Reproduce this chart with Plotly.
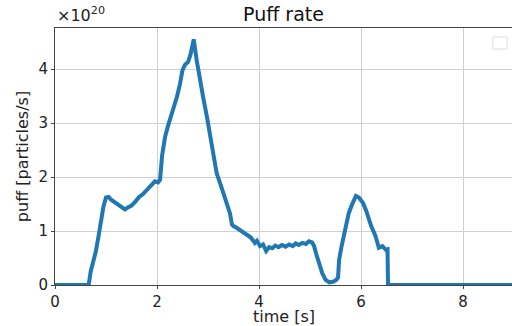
import plotly.graph_objects as go

# Puff rate time trace (time in s, rate in units of 1e20 particles/s)
time_s = [0.0, 0.66, 0.70, 0.75, 0.80, 0.85, 0.90, 0.95, 1.00, 1.05, 1.10, 1.18, 1.25, 1.30,
          1.37, 1.42, 1.50, 1.58, 1.65, 1.72, 1.80, 1.88, 1.96, 2.02, 2.06, 2.10, 2.16,
          2.22, 2.30, 2.39, 2.45, 2.50, 2.55, 2.61, 2.66, 2.72, 2.78, 2.84, 2.91, 2.98,
          3.06, 3.14, 3.17, 3.25, 3.33, 3.40, 3.43, 3.47, 3.50, 3.56, 3.62, 3.70, 3.76,
          3.84, 3.92, 3.96, 4.02, 4.08, 4.14, 4.20, 4.26, 4.32, 4.38, 4.45, 4.52, 4.59,
          4.66, 4.72, 4.78, 4.85, 4.92, 4.98, 5.04, 5.08, 5.13, 5.18, 5.24, 5.31, 5.38,
          5.45, 5.51, 5.55, 5.57, 5.62, 5.67, 5.72, 5.76, 5.82, 5.90, 5.96, 6.04, 6.10,
          6.15, 6.20, 6.28, 6.35, 6.42, 6.49, 6.52, 6.53, 7.5, 9.0]
puff = [0.0, 0.0, 0.25, 0.42, 0.62, 0.88, 1.18, 1.45, 1.62, 1.63, 1.58, 1.52, 1.47, 1.44,
        1.40, 1.43, 1.47, 1.55, 1.63, 1.68, 1.76, 1.82, 1.92, 1.90, 1.95, 2.40, 2.75,
        2.96, 3.20, 3.48, 3.72, 3.98, 4.08, 4.13, 4.28, 4.55, 4.15, 3.80, 3.45, 3.11,
        2.70, 2.31, 2.07, 1.85, 1.62, 1.38, 1.33, 1.12, 1.09, 1.06, 1.02, 0.98, 0.93,
        0.88, 0.78, 0.82, 0.72, 0.75, 0.63, 0.70, 0.68, 0.73, 0.70, 0.74, 0.71, 0.75,
        0.72, 0.77, 0.74, 0.78, 0.76, 0.81, 0.79, 0.72, 0.55, 0.40, 0.22, 0.09, 0.05,
        0.06, 0.09, 0.14, 0.46, 0.72, 0.96, 1.18, 1.33, 1.48, 1.65, 1.62, 1.52, 1.38,
        1.22, 1.09, 0.92, 0.69, 0.72, 0.65, 0.66, 0.0, 0.0, 0.0]

fig = go.Figure()
fig.add_trace(go.Scatter(
    x=time_s, y=puff, mode="lines",
    line=dict(color="#1f77b4", width=4),
    showlegend=False,
))

axis_font = dict(family="DejaVu Sans", size=15, color="#222222")

fig.update_layout(
    width=512, height=326,
    margin=dict(l=55, r=0, t=28, b=41),
    paper_bgcolor="white", plot_bgcolor="white",
    font=dict(family="DejaVu Sans", color="#222222"),
    title=dict(text="Puff rate", x=(55 + 512) / 2 / 512, xanchor="center",
               y=1 - 14 / 326, yanchor="middle",
               font=dict(family="DejaVu Sans", size=19, color="#111111")),
    xaxis=dict(
        range=[0, 457 / 51], tickvals=[0, 2, 4, 6, 8], ticktext=["0", "2", "4", "6", "8"],
        showgrid=True, gridcolor="#d0d0d0", gridwidth=1,
        showline=True, linecolor="#444444", linewidth=1, mirror=True,
        ticks="outside", ticklen=3, tickcolor="#444444",
        tickfont=axis_font, zeroline=False,
    ),
    yaxis=dict(
        range=[0, 257 / 54], tickvals=[0, 1, 2, 3, 4], ticktext=["0", "1", "2", "3", "4"],
        showgrid=True, gridcolor="#d0d0d0", gridwidth=1,
        showline=True, linecolor="#444444", linewidth=1,
        ticks="outside", ticklen=3, tickcolor="#444444",
        tickfont=axis_font, zeroline=False,
        title=dict(text="puff [particles/s]", font=dict(family="DejaVu Sans", size=16), standoff=5),
    ),
)

# x axis title placed below the tick labels
fig.add_annotation(
    text="time [s]", xref="paper", yref="paper", x=0.5, y=-31.5 / 257,
    xanchor="center", yanchor="middle", showarrow=False,
    font=dict(family="DejaVu Sans", size=16, color="#222222"),
)

# Scale factor shown above the y axis
fig.add_annotation(
    text="×10<sup>20</sup>", xref="paper", yref="paper", x=0, y=1,
    xanchor="left", yanchor="bottom", showarrow=False, yshift=1,
    font=dict(family="DejaVu Sans", size=16, color="#222222"),
)

# Empty legend frame in the upper right corner
fig.add_shape(
    type="rect", xref="paper", yref="paper",
    x0=0.958, x1=0.989, y0=0.918, y1=0.965,
    line=dict(color="#dddddd", width=1), fillcolor="white",
)

fig.write_html("out.html")
